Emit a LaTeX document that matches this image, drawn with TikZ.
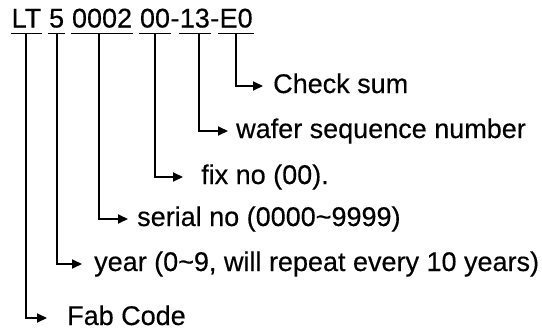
\documentclass[tikz,border=0pt]{standalone}
\usepackage{fontspec}
\setmainfont{Liberation Sans}
\newfontfamily\heavysans{Liberation Sans}[FakeBold=0.4]
\usetikzlibrary{arrows.meta,calc}
\begin{document}
\begin{tikzpicture}[x=1pt,y=-1pt,
  txt/.style={inner sep=0pt,font=\heavysans\fontsize{27}{32}\selectfont},
  lab/.style={txt,anchor=west,text height=19pt,text depth=5pt},
  uline/.style={line width=1.3pt},
  arr/.style={line width=2pt,-{Triangle[length=10pt,width=9pt]}}]
\useasboundingbox (0,0) rectangle (542,332);
% top code
\node[txt,anchor=base west] (lt) at (11.5,27.5) {LT};
\node[txt,anchor=base west] (yr) at ([xshift=7.5pt]lt.base east) {5};
\node[txt,anchor=base west] (sn) at ([xshift=7.5pt]yr.base east) {0002};
\node[txt,anchor=base west] (fx) at ([xshift=7.5pt]sn.base east) {00};
\node[txt,anchor=base west] (d1) at (fx.base east) {-};
\node[txt,anchor=base west] (ws) at (d1.base east) {13};
\node[txt,anchor=base west] (d2) at (ws.base east) {-};
\node[txt,anchor=base west] (cs) at (d2.base east) {E0};
\foreach \n in {lt,yr,sn,fx,ws,cs}
  \draw[uline] ([shift={(-1pt,-6pt)}]\n.base west) -- ([shift={(1pt,-6pt)}]\n.base east);
% labels
\node[lab] (lcs) at (273,86) {Check sum};
\node[lab] (lws) at (236,131) {wafer sequence number};
\node[lab] (lfx) at (201,177) {fix no (00).};
\node[lab] (lsn) at (137,219) {serial no (0000\char"7E 9999)};
\node[lab] (lyr) at (94,264) {year (0\char"7E 9, will repeat every 10 years)};
\node[lab] (llt) at (67,318) {Fab Code};
% connectors
\draw[arr,shorten >=10pt] ([yshift=-6pt]cs.base) |- (lcs.west);
\draw[arr,shorten >=8pt]  ([shift={(4pt,-6pt)}]ws.base) |- (lws.west);
\draw[arr,shorten >=18pt] ([yshift=-6pt]fx.base) |- (lfx.west);
\draw[arr,shorten >=9pt]  ([shift={(-3pt,-6pt)}]sn.base) |- (lsn.west);
\draw[arr,shorten >=12pt] ([yshift=-6pt]yr.base) |- (lyr.west);
\draw[arr,shorten >=20pt] ([yshift=-6pt]lt.base) |- (llt.west);
\end{tikzpicture}
\end{document}
